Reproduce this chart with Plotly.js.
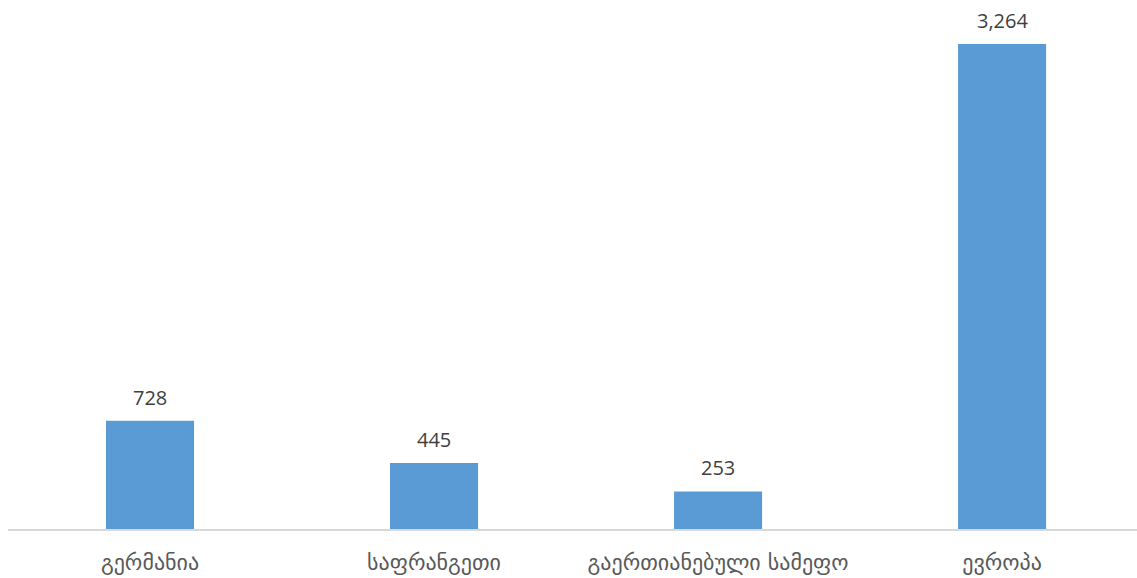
<!DOCTYPE html>
<html><head><meta charset="utf-8">
<script src="https://cdn.plot.ly/plotly-3.0.1.min.js"></script>
<style>html,body{margin:0;padding:0;background:#fff;}#chart{width:1137px;height:578px;}</style>
</head><body><div id="chart"></div>
<script>
const categories = ["გერმანია", "საფრანგეთი", "გაერთიანებული სამეფო", "ევროპა"];
const values = [728, 445, 253, 3264];
const valueLabels = ["728", "445", "253", "3,264"];

const trace = {
  type: 'bar', x: categories, y: values,
  marker: {color: '#5B9BD5'},
  hoverinfo: 'none'
};
const annotations = categories.map((c, i) => ({
  x: c, y: values[i], text: valueLabels[i], showarrow: false,
  yanchor: 'bottom', yshift: 8,
  font: {family: '"Open Sans", sans-serif', size: 20, color: '#404040'}
}));
const layout = {
  width: 1137, height: 578,
  margin: {l: 8, r: 0, t: 0, b: 49},
  paper_bgcolor: '#fff', plot_bgcolor: '#fff',
  bargap: 0.69,
  showlegend: false,
  xaxis: {
    type: 'category', range: [-0.5, 3.475],
    showline: true, linecolor: '#D9D9D9', linewidth: 1.5,
    ticks: '', showgrid: false, zeroline: false,
    ticklabelstandoff: 13,
    tickfont: {family: '"DejaVu Sans", sans-serif', size: 22, color: '#595959'}
  },
  yaxis: {range: [0, 3560], visible: false, showgrid: false, zeroline: false},
  annotations: annotations
};
Plotly.newPlot('chart', [trace], layout, {displayModeBar: false, staticPlot: true});
</script></body></html>
